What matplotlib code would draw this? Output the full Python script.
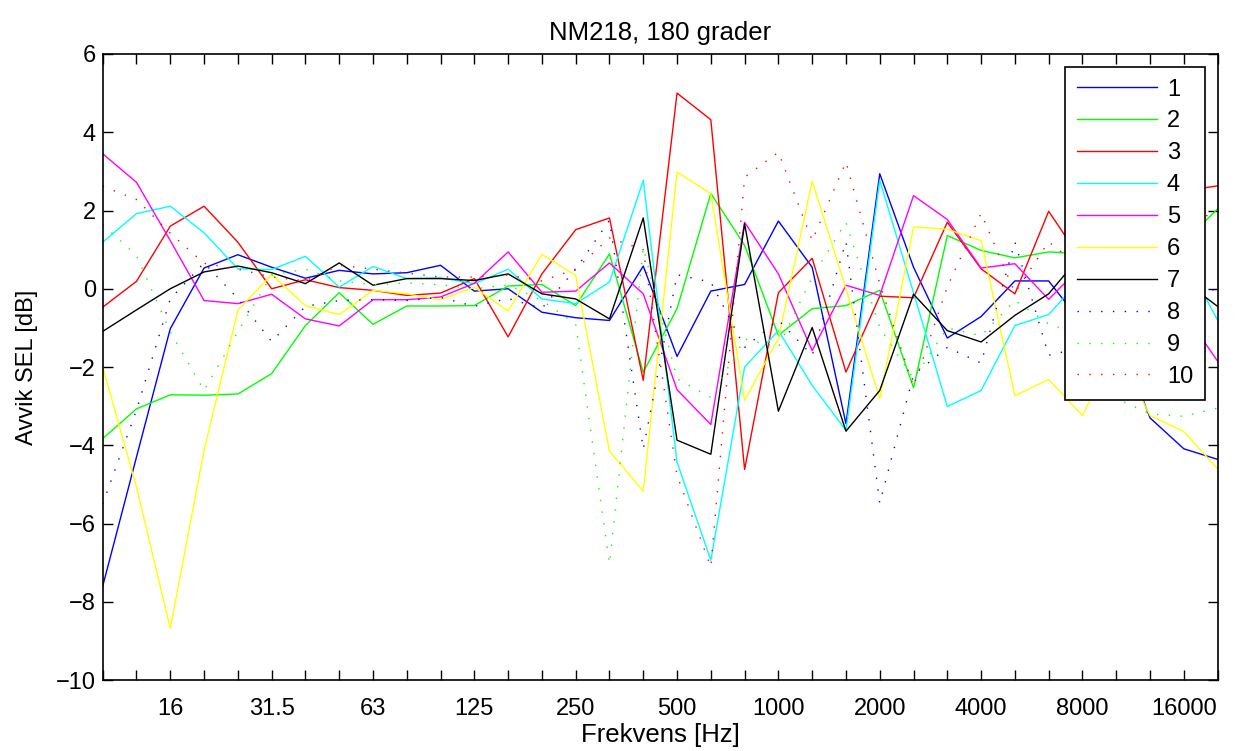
import matplotlib
matplotlib.use("Agg")
import matplotlib.pyplot as plt
import numpy as np

plt.rcParams['font.family'] = ['Liberation Sans', 'DejaVu Sans']

# third-octave bands, 10 Hz .. 20 kHz
bands = [10, 12.5, 16, 20, 25, 31.5, 40, 50, 63, 80, 100, 125, 160, 200, 250,
         315, 400, 500, 630, 800, 1000, 1250, 1600, 2000, 2500, 3150, 4000,
         5000, 6300, 8000, 10000, 12500, 16000, 20000]
tick_labels = ['16', '31.5', '63', '125', '250', '500', '1000', '2000',
               '4000', '8000', '16000']

s1 = [-7.6, -4.3, -1.02, 0.53, 0.87, 0.55, 0.27, 0.47, 0.38, 0.41, 0.60, -0.06,
      0.0, -0.60, -0.74, -0.81, 0.58, -1.73, -0.06, 0.11, 1.73, 0.55, -3.45,
      2.94, 0.55, -1.26, -0.71, 0.20, 0.20, -0.9, -1.05, -3.3, -4.09, -4.36]
s2 = [-3.83, -3.07, -2.71, -2.72, -2.69, -2.17, -0.94, -0.10, -0.91, -0.44,
      -0.44, -0.43, 0.07, 0.11, -0.43, 0.89, -2.13, -0.51, 2.44, 1.11, -1.19,
      -0.51, -0.43, -0.04, -2.53, 1.36, 0.98, 0.79, 0.94, 0.9, 0.6, 0.8, 1.2,
      2.04]
s3 = [-0.47, 0.19, 1.60, 2.11, 1.19, 0.0, 0.23, 0.03, -0.04, -0.17, -0.11, 0.26,
      -1.23, 0.38, 1.51, 1.81, -2.34, 5.0, 4.32, -4.62, -0.10, 0.78, -2.13,
      -0.19, -0.23, 1.70, 0.51, -0.13, 1.98, 0.7, 1.5, 2.2, 2.5, 2.63]
s4 = [1.19, 1.92, 2.11, 1.43, 0.51, 0.49, 0.83, 0.04, 0.57, 0.26, 0.28, 0.13,
      0.50, -0.26, -0.38, 0.17, 2.77, -4.43, -6.94, -2.0, -1.07, -2.47, -3.62,
      2.77, -0.1, -3.01, -2.6, -0.94, -0.66, 0.3, 0.6, 0.7, 0.8, -0.8]
s5 = [3.45, 2.72, 1.23, -0.30, -0.38, -0.14, -0.77, -0.95, -0.28, -0.28, -0.21,
      0.14, 0.94, -0.09, -0.06, 0.66, -0.13, -2.58, -3.47, 1.70, 0.38, -1.58,
      0.09, -0.17, 2.38, 1.77, 0.53, 0.64, -0.27, 0.6, 0.5, 0.0, -0.6, -1.85]
s6 = [-2.0, -5.07, -8.68, -4.13, -0.55, 0.36, -0.43, -0.66, -0.04, -0.13,
      -0.28, 0.04, -0.57, 0.88, 0.34, -4.15, -5.17, 2.98, 2.43, -2.85, -1.27,
      2.75, 0.0, -2.81, 1.58, 1.52, 1.23, -2.73, -2.32, -3.24, -1.5, -3.24,
      -3.65, -4.6]
s7 = [-1.09, -0.54, 0.0, 0.43, 0.58, 0.41, 0.13, 0.66, 0.09, 0.26, 0.26, 0.21,
      0.38, -0.13, -0.26, -0.77, 1.81, -3.87, -4.23, 1.66, -3.13, -0.99, -3.64,
      -2.60, -0.14, -1.07, -1.36, -0.68, -0.13, 0.9, 0.7, 0.5, 0.2, -0.45]
s8 = [-5.5, -3.1, -0.26, 0.66, -0.25, -1.35, -0.45, -0.3, -0.28, -0.3, -0.22,
      -0.45, -0.25, -0.5, 0.5, 1.75, -4.1, 0.36, 0.17, -1.5, -0.8, -1.7, 1.2,
      -5.48, -2.2, -1.5, -1.9, 1.2, -1.7, -1.5, -1.0, -0.5, -0.2, 0.0]
s9 = [1.64, 0.85, -1.1, -2.6, -1.1, 0.35, 0.5, 0.2, 0.1, 0.15, 0.1, 0.0, 0.1,
      -0.3, -0.9, -7.03, 1.05, -2.3, -2.78, -1.28, -1.5, 0.3, 1.7, -1.0, -2.3,
      -1.0, -1.2, -0.3, -0.9, -1.2, -2.8, -3.2, -3.26, -3.05]
s10 = [2.62, 2.28, 1.42, 0.65, 0.5, 0.3, 0.2, 0.6, 0.5, 0.4, 0.3, 0.3, 0.35,
       0.2, 0.5, 1.3, 1.0, -4.77, -7.11, 2.85, 3.49, 1.23, 3.24, 0.13, -2.5,
       0.05, 1.93, -0.1, 1.2, 0.5, 1.0, 1.5, 1.8, 1.9]

series = [s1, s2, s3, s4, s5, s6, s7, s8, s9, s10]
names = ['1', '2', '3', '4', '5', '6', '7', '8', '9', '10']
colors = ['#0000ff', '#00ff00', '#ff0000', '#00ffff', '#ff00ff', '#ffff00',
          '#000000', '#0000ff', '#00ff00', '#ff0000']
dotted = (0, (1, 7.5))
styles = ['-'] * 7 + [dotted] * 3

x = np.arange(len(bands))

fig = plt.figure(figsize=(12.36, 7.51), dpi=100)
ax = fig.add_axes([0.0831, 0.0945, 0.902, 0.8336])

for vals, name, c, ls in zip(series, names, colors, styles):
    ax.plot(x, vals, color=c, linestyle=ls, linewidth=1.0, label=name)

ax.set_xlim(0, len(bands) - 1)
ax.set_ylim(-10, 6)
ax.set_yticks(np.arange(-10, 7, 2))

ax.set_xticks(x)
ax.set_xticklabels([t if t in tick_labels else '' for t in
                    [('%g' % b) for b in bands]])

ax.tick_params(direction='in', length=7, width=1.0, top=True, right=True,
               labelsize=17)
ax.tick_params(axis='x', pad=13)
ax.tick_params(axis='y', pad=5)
for sp in ax.spines.values():
    sp.set_linewidth(1.2)

ax.set_title('NM218, 180 grader', fontsize=18.5, pad=10)
ax.set_xlabel('Frekvens [Hz]', fontsize=18.5, labelpad=2)
ax.set_ylabel('Avvik SEL [dB]', fontsize=17, labelpad=13)

leg = ax.legend(loc='upper right', bbox_to_anchor=(0.9886, 0.9797),
                borderaxespad=0, fancybox=False, framealpha=1,
                edgecolor='black', fontsize=17, handlelength=3.4,
                labelspacing=0.42, handletextpad=0.4, borderpad=0.5)
leg.get_frame().set_linewidth(1.2)

fig.savefig('out.png', dpi=100)
